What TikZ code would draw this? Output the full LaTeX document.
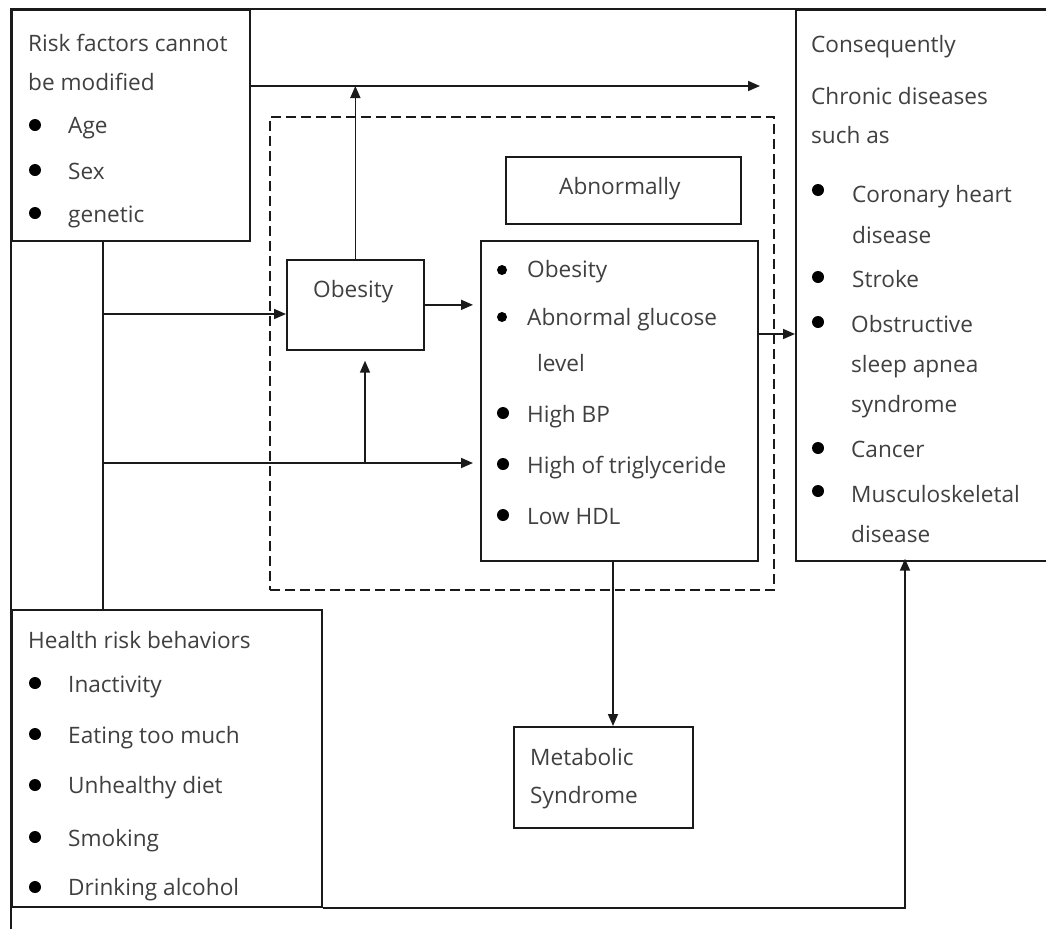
\documentclass[tikz,border=0pt]{standalone}
\usepackage{fontspec}
\setmainfont{Open Sans}
\usetikzlibrary{arrows.meta}
\definecolor{ink}{HTML}{1A1A1A}
\definecolor{txt}{HTML}{404040}
\tikzset{
  box/.style={draw=ink, line width=1.7pt, inner sep=0pt, anchor=north west},
  lbl/.style={anchor=base west, inner sep=0pt, text=txt, font=\fontsize{22.6}{26}\selectfont},
  dot/.style={circle, fill=black, inner sep=0pt, minimum size=12pt},
  sdot/.style={circle, fill=black, inner sep=0pt, minimum size=10pt},
  conn/.style={draw=ink, line width=1.7pt},
  arr/.style={conn, -{Triangle[length=12pt,width=10pt]}},
  dashbox/.style={draw=ink, line width=1.6pt, dash pattern=on 10pt off 5pt}
}
\begin{document}
\begin{tikzpicture}[x=1pt,y=-1pt]
\useasboundingbox (0,0) rectangle (1046,929);
\fill[white] (0,0) rectangle (1046,929);

% outer frame (top and left edges)
\draw[conn] (11,929) -- (11,9) -- (1046,9);

% boxes
\node[box, minimum width=238pt, minimum height=231pt] (risk) at (11,9) {};
\node[box, minimum width=260pt, minimum height=551pt] (conseq) at (795,9) {};
\node[dashbox, inner sep=0pt, anchor=north west, minimum width=504pt, minimum height=473pt] (frame) at (269,116) {};
\node[box, minimum width=235pt, minimum height=67pt] (abn) at (505,156) {};
\node[box, minimum width=137pt, minimum height=90pt] (obes) at (286,259) {};
\node[box, minimum width=277pt, minimum height=320pt] (list) at (480,240) {};
\node[box, minimum width=179pt, minimum height=101pt] (meta) at (513,726) {};
\node[box, minimum width=310pt, minimum height=297pt] (health) at (11,609) {};

% risk factors
\node[lbl] (r1) at (28,51) {Risk factors cannot};
\node[lbl] (r2) at (28,90) {be modified};
\node[dot] (rb1) at (35,125) {}; \node[lbl] (r3) at (68,133) {Age};
\node[dot] (rb2) at (35,170) {}; \node[lbl] (r4) at (68,179) {Sex};
\node[dot] (rb3) at (35,213) {}; \node[lbl] (r5) at (68,222) {genetic};

% consequences
\node[lbl] (c1) at (811,52) {Consequently};
\node[lbl] (c2) at (811,104) {Chronic diseases};
\node[lbl] (c3) at (811,143) {such as};
\node[dot] (cb1) at (818,190) {}; \node[lbl] (c4) at (852,202) {Coronary heart};
\node[lbl] (c5) at (852,243) {disease};
\node[dot] (cb2) at (818,277) {}; \node[lbl] (c6) at (852,287) {Stroke};
\node[dot] (cb3) at (818,322) {}; \node[lbl] (c7) at (851,332) {Obstructive};
\node[lbl] (c8) at (851,372) {sleep apnea};
\node[lbl] (c9) at (851,412) {syndrome};
\node[dot] (cb4) at (818,448) {}; \node[lbl] (c10) at (851,457) {Cancer};
\node[dot] (cb5) at (818,491) {}; \node[lbl] (c11) at (851,502) {Musculoskeletal};
\node[lbl] (c12) at (851,542) {disease};

% abnormal findings
\node[lbl] (a0) at (559,194) {Abnormally};
\node[lbl] (o0) at (313,297) {Obesity};
\node[sdot] (lb1) at (502,270) {}; \node[lbl] (l1) at (527,277) {Obesity};
\node[sdot] (lb2) at (502,317) {}; \node[lbl] (l2) at (527,325) {Abnormal glucose};
\node[lbl] (l3) at (537,371) {level};
\node[dot] (lb3) at (503,413) {}; \node[lbl] (l4) at (527,422) {High BP};
\node[dot] (lb4) at (503,464) {}; \node[lbl] (l5) at (527,473) {High of triglyceride};
\node[dot] (lb5) at (503,515) {}; \node[lbl] (l6) at (527,524) {Low HDL};

% metabolic syndrome
\node[lbl] (m1) at (530,765) {Metabolic};
\node[lbl] (m2) at (530,803) {Syndrome};

% health risk behaviours
\node[lbl] (h0) at (28,648) {Health risk behaviors};
\node[dot] (hb1) at (35,683) {}; \node[lbl] (h1) at (68,692) {Inactivity};
\node[dot] (hb2) at (35,734) {}; \node[lbl] (h2) at (68,743) {Eating too much};
\node[dot] (hb3) at (35,785) {}; \node[lbl] (h3) at (68,793) {Unhealthy diet};
\node[dot] (hb4) at (35,837) {}; \node[lbl] (h4) at (68,846) {Smoking};
\node[dot] (hb5) at (35,887) {}; \node[lbl] (h5) at (68,895) {Drinking alcohol};

% junctions
\coordinate (jx) at (103,0);
\coordinate (j1) at (103,314);
\coordinate (j2) at (103,463);
\coordinate (j3) at (365,463);
\coordinate (tl) at (249,86);
\coordinate (tr) at (760,86);
\coordinate (mx) at (613,0);
\coordinate (hx) at (905,0);
\coordinate (ly) at (0,334);

% connectors
\draw[conn] (risk.south -| jx) -- (health.north -| jx);
\draw[arr] (j1) -- (j1 -| obes.west);
\draw[arr, shorten >=7pt] (j2) -- (j2 -| list.west);
\draw[arr, shorten >=10pt] (j3) -- (j3 |- obes.south);
\draw[arr, shorten >=7pt] (obes.east) -- (obes.east -| list.west);
\draw[arr] (obes.north) -- (obes.north |- tl);
\draw[arr] (tl) -- (tr);
\draw[arr] (ly -| list.east) -- (ly -| conseq.west);
\draw[arr] (list.south -| mx) -- (meta.north -| mx);
\draw[arr, shorten >=-3pt] (health.south east) -- (health.south -| hx) -- (conseq.south -| hx);
\end{tikzpicture}
\end{document}
